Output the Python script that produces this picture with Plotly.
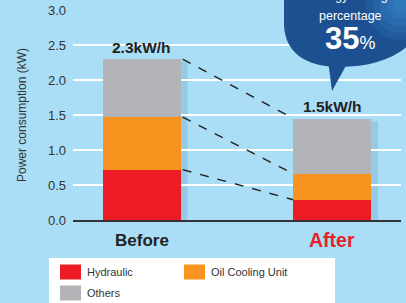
import plotly.graph_objects as go
import numpy as np

categories = ["Before", "After"]
series_names = ["Hydraulic", "Oil Cooling Unit", "Others"]
hydraulic = [0.72, 0.29]
oil_cooling = [0.75, 0.37]
others = [0.83, 0.79]
total_labels = ["2.3kW/h", "1.5kW/h"]
y_ticks = [0.0, 0.5, 1.0, 1.5, 2.0, 2.5, 3.0]
colors = ["#ed1c24", "#f7931e", "#b3b4b8"]
bg = "#a9def6"

OFF = 0  # page offset of the plot div (body margin removed below)
W, H = 406 - OFF, 303 - OFF
ML, MR, MT = 73 - OFF, 5, 10 - OFF
PH = 210
MB = H - MT - PH
PW = W - ML - MR


def px(x):  # page pixel -> paper
    return (x - OFF - ML) / PW


def py(y):
    return (MT + PH - (y - OFF)) / PH


xs = list(range(len(categories)))
bar_w = 0.41
fig = go.Figure()
series = [hydraulic, oil_cooling, others]
cum = np.cumsum(np.array(series), axis=0)

shapes = []
# soft shadows behind bars
for i, x in enumerate(xs):
    shapes.append(dict(type="rect", xref="x", yref="y", x0=x - bar_w / 2 + 0.01, x1=x + bar_w / 2 + 0.035,
                       y0=0, y1=cum[-1][i] - 0.04, fillcolor="rgba(20,70,110,0.13)",
                       line=dict(width=0), layer="below"))

for name, vals, c in zip(series_names, series, colors):
    fig.add_trace(go.Bar(x=xs, y=vals, name=name, marker_color=c, marker_line_width=0,
                         width=bar_w, showlegend=False))

# dashed connectors
for lvl in range(len(series)):
    fig.add_trace(go.Scatter(x=[xs[0] + bar_w / 2 + 0.01, xs[1] - bar_w / 2],
                             y=[cum[lvl][0], cum[lvl][1]], mode="lines",
                             line=dict(color="#222", width=1.4, dash="dash"),
                             showlegend=False, hoverinfo="skip"))

annotations = []
for i, x in enumerate(xs):
    annotations.append(dict(x=x, y=cum[-1][i], xref="x", yref="y", text="<b>%s</b>" % total_labels[i],
                            showarrow=False, yshift=12, xanchor="center", yanchor="middle",
                            font=dict(size=15.5, color="#222", family="Liberation Sans")))
cat_colors = ["#222222", "#e8202a"]
cat_sizes = [17, 19.5]
for i, x in enumerate(xs):
    annotations.append(dict(x=x, y=py(240), xref="x", yref="paper", text="<b>%s</b>" % categories[i],
                            showarrow=False, xanchor="center", yanchor="middle",
                            font=dict(size=cat_sizes[i], color=cat_colors[i], family="Liberation Sans")))

annotations.append(dict(x=px(22), y=py(115), xref="paper", yref="paper", text="Power consumption (kW)",
                        textangle=-90, showarrow=False, xanchor="center", yanchor="middle",
                        font=dict(size=12, color="#333", family="Liberation Sans")))

# speech bubble
bubble = "#1c5090"


def P(x, y):
    return "%.4f,%.4f" % (px(x), py(y))


body = ("M" + P(284, -20) + " L" + P(284, 25) + " C" + P(285, 52) + " " + P(305, 67) + " " + P(340, 67)
        + " C" + P(372, 67) + " " + P(398, 58) + " " + P(414, 40) + " L" + P(414, -20) + " Z")
tail = "M" + P(328, 60) + " L" + P(332, 91) + " L" + P(348, 62) + " Z"
shapes.append(dict(type="path", xref="paper", yref="paper", path=body, fillcolor=bubble,
                   line=dict(width=0), layer="above"))
shapes.append(dict(type="path", xref="paper", yref="paper", path=tail, fillcolor=bubble,
                   line=dict(width=0), layer="above"))
# lighter glow toward the top-right of the bubble
for r in [34, 27, 20, 13, 7]:
    shapes.append(dict(type="circle", xref="paper", yref="paper", x0=px(400 - r), x1=px(400 + r),
                       y0=py(6 + r), y1=py(6 - r), fillcolor="rgba(70,160,235,0.13)",
                       line=dict(width=0), layer="above"))

bf = "Liberation Sans, Arial"
annotations.append(dict(x=px(349), y=py(-4), xref="paper", yref="paper", text="energy saving", showarrow=False,
                        xanchor="center", yanchor="middle", font=dict(size=12.5, color="white", family=bf)))
annotations.append(dict(x=px(350), y=py(16), xref="paper", yref="paper", text="percentage", showarrow=False,
                        xanchor="center", yanchor="middle", font=dict(size=12.5, color="white", family=bf)))
annotations.append(dict(x=px(350), y=py(39), xref="paper", yref="paper",
                        text="<b>35</b><span style='font-size:18px'>%</span>", showarrow=False,
                        xanchor="center", yanchor="middle", font=dict(size=31, color="white", family=bf)))

# legend box
shapes.append(dict(type="rect", xref="paper", yref="paper", x0=px(49), x1=px(335), y0=py(315), y1=py(258),
                   fillcolor="white", line=dict(width=0), layer="above"))
leg_pos = [(60, 272), (184, 272), (60, 293)]
for (lx, ly), name, c in zip(leg_pos, series_names, colors):
    shapes.append(dict(type="rect", xref="paper", yref="paper", x0=px(lx), x1=px(lx + 21), y0=py(ly + 7.5),
                       y1=py(ly - 7.5), fillcolor=c, line=dict(width=0), layer="above"))
    annotations.append(dict(x=px(lx + 25), y=py(ly), xref="paper", yref="paper", text=name, xanchor="left",
                            yanchor="middle", showarrow=False,
                            font=dict(size=11, color="#333", family="Liberation Sans")))

fig.update_layout(
    width=W, height=H, margin=dict(l=ML, r=MR, t=MT, b=MB),
    paper_bgcolor=bg, plot_bgcolor=bg, barmode="stack", bargap=0,
    annotations=annotations, shapes=shapes, showlegend=False,
    xaxis=dict(range=[-0.36, 1.36], showticklabels=False, showgrid=False, zeroline=False,
               showline=True, linecolor="#333", linewidth=1.5, fixedrange=True),
    yaxis=dict(range=[0, 3.001], tickvals=y_ticks, ticktext=["%.1f" % v for v in y_ticks],
               showgrid=True, gridcolor="white", gridwidth=1.5, zeroline=False, automargin=False,
               ticklabeloverflow="allow",
               tickfont=dict(size=13, color="#333", family="Liberation Sans"), ticks="", ticklabelstandoff=6),
)

fig.write_html("out.html", config={"displayModeBar": False, "staticPlot": True},
               post_script="document.body.style.margin='0px';")
